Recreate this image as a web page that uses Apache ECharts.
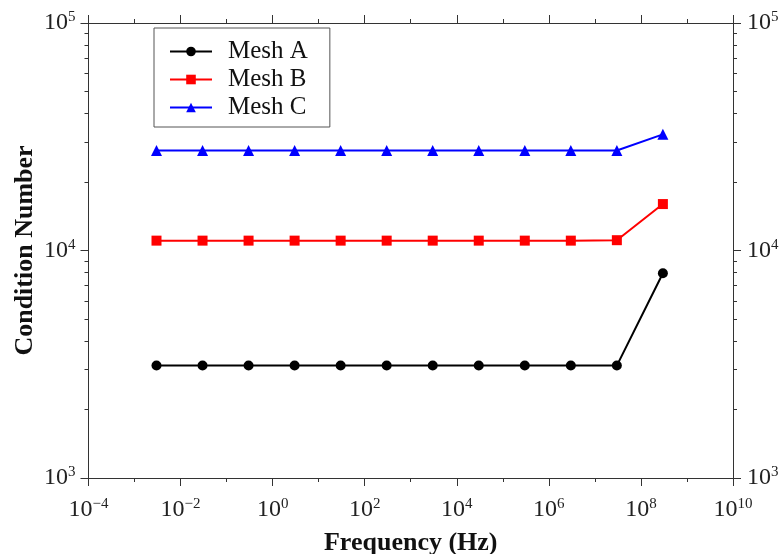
<!DOCTYPE html>
<html>
<head>
<meta charset="utf-8">
<script src="https://cdn.jsdelivr.net/npm/echarts@6/dist/echarts.min.js"></script>
<style>html,body{margin:0;padding:0;background:#fff}#c{width:783px;height:554px}</style>
</head>
<body>
<div id="c"></div>
<script>
const frequencies = [3e-3, 3e-2, 3e-1, 3, 30, 300, 3e3, 3e4, 3e5, 3e6, 3e7, 3e8];
const meshA = [3120, 3120, 3120, 3120, 3120, 3120, 3120, 3120, 3120, 3120, 3120, 7940];
const meshB = [11050, 11050, 11050, 11050, 11050, 11050, 11050, 11050, 11050, 11050, 11100, 16000];
const meshC = [27500, 27500, 27500, 27500, 27500, 27500, 27500, 27500, 27500, 27500, 27500, 32400];
const seriesNames = ['Mesh A', 'Mesh B', 'Mesh C'];
const xMajorTicks = [1e-4, 1e-2, 1, 1e2, 1e4, 1e6, 1e8, 1e10];
const xMinorTicks = [1e-3, 1e-1, 10, 1e3, 1e5, 1e7, 1e9];
const yMajorTicks = [1e3, 1e4, 1e5];
const yMinorTicks = [2e3, 3e3, 4e3, 5e3, 6e3, 7e3, 8e3, 9e3, 2e4, 3e4, 4e4, 5e4, 6e4, 7e4, 8e4, 9e4];

const FONT = 'Liberation Serif';
const AX = '#333';
function expLabel(v) {
  const e = Math.round(Math.log10(v));
  return '{b|10}{s|' + String(e).replace('-', '\u2212') + '}';
}
const rich = {
  b: { fontSize: 24, fontFamily: FONT, color: '#222', lineHeight: 26 },
  s: { fontSize: 15, fontFamily: FONT, color: '#222', verticalAlign: 'top', lineHeight: 15 }
};
function majorAxis(pos, ticks, labels, margin, extra) {
  return Object.assign({
    type: 'log', logBase: 10, position: pos,
    axisLine: { show: true, lineStyle: { color: AX, width: 1 } },
    axisTick: { show: true, inside: false, length: 8, customValues: ticks, lineStyle: { color: AX } },
    axisLabel: labels ? { show: true, customValues: ticks, formatter: expLabel, rich: rich, margin: margin } : { show: false },
    splitLine: { show: false }, minorTick: { show: false }
  }, extra);
}
function minorAxis(pos, ticks, extra) {
  return Object.assign({
    type: 'log', logBase: 10, position: pos,
    axisLine: { show: false },
    axisTick: { show: true, inside: false, length: 4, customValues: ticks, lineStyle: { color: AX } },
    axisLabel: { show: false },
    splitLine: { show: false }, minorTick: { show: false }
  }, extra);
}
const xr = { min: 1e-4, max: 1e10 };
const yr = { min: 1e3, max: 1e5 };

const chart = echarts.init(document.getElementById('c'), null, { renderer: 'canvas' });
chart.setOption({
  animation: false,
  backgroundColor: '#fff',
  grid: { left: 88.5, right: 50, top: 23, bottom: 76, outerBoundsMode: 'none', containLabel: false },
  legend: {
    orient: 'vertical', left: 154, top: 28,
    padding: [11, 22, 7, 15],
    borderColor: '#555', borderWidth: 1,
    itemWidth: 42, itemHeight: 12, itemGap: 3,
    textStyle: { fontFamily: FONT, fontSize: 25, color: '#111', padding: [0, 0, 0, 11] },
    data: seriesNames
  },
  xAxis: [
    majorAxis('bottom', xMajorTicks, true, 19, Object.assign({
      name: 'Frequency (Hz)', nameLocation: 'middle', nameGap: 52, nameMoveOverlap: false,
      nameTextStyle: { fontFamily: FONT, fontSize: 26, fontWeight: 'bold', color: '#111' }
    }, xr)),
    minorAxis('bottom', xMinorTicks, xr),
    majorAxis('top', xMajorTicks, false, 0, xr),
    minorAxis('top', xMinorTicks, xr)
  ],
  yAxis: [
    majorAxis('left', yMajorTicks, true, 13, Object.assign({
      name: 'Condition Number', nameLocation: 'middle', nameGap: 50, nameMoveOverlap: false,
      nameTextStyle: { fontFamily: FONT, fontSize: 26, fontWeight: 'bold', color: '#111' }
    }, yr)),
    minorAxis('left', yMinorTicks, yr),
    majorAxis('right', yMajorTicks, true, 14, yr),
    minorAxis('right', yMinorTicks, yr)
  ],
  series: [
    { name: seriesNames[0], type: 'line', xAxisIndex: 0, yAxisIndex: 0,
      data: frequencies.map((f, i) => [f, meshA[i]]),
      symbol: 'circle', symbolSize: 10, color: '#000',
      lineStyle: { color: '#000', width: 2 }, itemStyle: { color: '#000' } },
    { name: seriesNames[1], type: 'line', xAxisIndex: 0, yAxisIndex: 0,
      data: frequencies.map((f, i) => [f, meshB[i]]),
      symbol: 'rect', symbolSize: 10, color: '#ff0000',
      lineStyle: { color: '#ff0000', width: 2 }, itemStyle: { color: '#ff0000' } },
    { name: seriesNames[2], type: 'line', xAxisIndex: 0, yAxisIndex: 0,
      data: frequencies.map((f, i) => [f, meshC[i]]),
      symbol: 'triangle', symbolSize: 11, color: '#0000ff',
      lineStyle: { color: '#0000ff', width: 2 }, itemStyle: { color: '#0000ff' } }
  ]
});
</script>
</body>
</html>
